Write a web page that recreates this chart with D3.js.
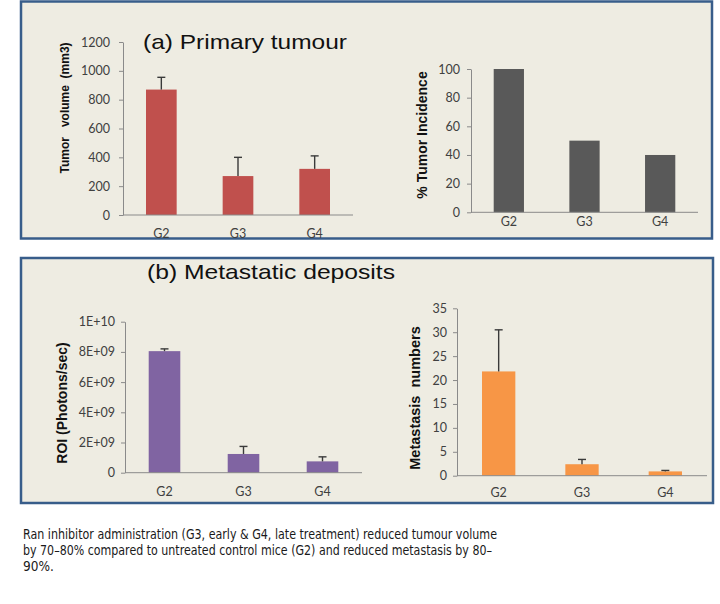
<!DOCTYPE html>
<html>
<head>
<meta charset="utf-8">
<script src="https://cdn.jsdelivr.net/npm/d3@7"></script>
<style>
  html, body { margin: 0; padding: 0; background: #fff; }
  svg { display: block; }
</style>
</head>
<body>
<div id="chart"></div>
<script>
// values
const groups = ["G2", "G3", "G4"];

const tumourVolume = [870, 270, 320];
const tumourVolumeErr = [85, 130, 90];
const volumeTicks = [0, 200, 400, 600, 800, 1000, 1200];

const tumourIncidence = [100, 50, 40];
const incidenceTicks = [0, 20, 40, 60, 80, 100];

const roiValues = [8.05e9, 1.24e9, 0.75e9];
const roiErr = [0.15e9, 0.5e9, 0.3e9];
const roiTicks = [0, 2e9, 4e9, 6e9, 8e9, 1e10];
const roiTickLabels = ["0", "2E+09", "4E+09", "6E+09", "8E+09", "1E+10"];

const metastasisCount = [21.8, 2.4, 0.9];
const metastasisErr = [8.7, 1.0, 0.2];
const metastasisTicks = [0, 5, 10, 15, 20, 25, 30, 35];

const captionLines = [
    "Ran inhibitor administration (G3, early & G4, late treatment) reduced tumour volume",
    "by 70\u201380% compared to untreated control mice (G2) and reduced metastasis by 80\u2013",
    "90%."
];

const W = 720, H = 604;
const svg = d3.select("#chart").append("svg")
    .attr("width", W)
    .attr("height", H);

// panel frames
const frames = [
    { x: 21, y: 1.5, w: 691, h: 237, title: "(a) Primary tumour", tx: 143, ty: 49, tlen: 204 },
    { x: 21, y: 258, w: 692, h: 245, title: "(b) Metastatic deposits", tx: 147, ty: 279, tlen: 248 }
];

frames.forEach(f => {
    svg.append("rect")
        .attr("x", f.x).attr("y", f.y)
        .attr("width", f.w).attr("height", f.h)
        .attr("fill", "#eeece2")
        .attr("stroke", "#385d8a")
        .attr("stroke-width", 2.5);

    svg.append("text")
        .attr("x", f.tx).attr("y", f.ty)
        .attr("font-family", "'Liberation Sans', Arial, sans-serif")
        .attr("font-size", 21)
        .attr("textLength", f.tlen)
        .attr("lengthAdjust", "spacingAndGlyphs")
        .attr("fill", "#111")
        .text(f.title);
});

function drawBars(cfg) {
    const g = svg.append("g");

    const x = d3.scaleBand()
        .domain(groups)
        .range([cfg.x0, cfg.x1])
        .paddingInner(0.6)
        .paddingOuter(0.3);

    const y = d3.scaleLinear()
        .domain([0, d3.max(cfg.ticks)])
        .range([cfg.y0, cfg.yTop]);

    // y axis
    g.append("g")
        .attr("transform", `translate(${cfg.x0},0)`)
        .call(d3.axisLeft(y)
            .tickValues(cfg.ticks)
            .tickSize(4)
            .tickSizeOuter(0)
            .tickPadding(cfg.yPad)
            .tickFormat((d, i) => cfg.labels ? cfg.labels[i] : d))
        .call(a => a.select(".domain").attr("stroke", "#8a8a8a"))
        .call(a => a.selectAll(".tick line").attr("stroke", "#8a8a8a"))
        .call(a => a.selectAll("text")
            .attr("fill", "#404040")
            .attr("font-family", "Lato, 'Open Sans', sans-serif")
            .attr("font-size", 12.5));

    // bars
    g.selectAll(".bar")
        .data(cfg.values)
        .enter()
        .append("rect")
        .attr("class", "bar")
        .attr("x", (d, i) => x(groups[i]))
        .attr("width", x.bandwidth())
        .attr("y", d => y(d))
        .attr("height", d => cfg.y0 - y(d))
        .attr("fill", cfg.color);

    // upper error bars
    if (cfg.errors) {
        const eb = g.selectAll(".err")
            .data(cfg.values.map((v, i) => ({ v, e: cfg.errors[i], k: groups[i] })))
            .enter()
            .append("g")
            .attr("class", "err")
            .attr("stroke", "#3a3a3a")
            .attr("stroke-width", 1.4);
        eb.append("line")
            .attr("x1", d => x(d.k) + x.bandwidth() / 2)
            .attr("x2", d => x(d.k) + x.bandwidth() / 2)
            .attr("y1", d => y(d.v))
            .attr("y2", d => y(d.v + d.e));
        eb.append("line")
            .attr("x1", d => x(d.k) + x.bandwidth() / 2 - 4)
            .attr("x2", d => x(d.k) + x.bandwidth() / 2 + 4)
            .attr("y1", d => y(d.v + d.e))
            .attr("y2", d => y(d.v + d.e));
    }

    // x axis
    g.append("g")
        .attr("transform", `translate(0,${cfg.y0})`)
        .call(d3.axisBottom(x).tickSize(0).tickSizeOuter(0).tickPadding(cfg.xPad))
        .call(a => a.select(".domain")
            .attr("stroke", "#8a8a8a")
            .attr("d", `M${cfg.x0},0H${cfg.x1}`))
        .call(a => a.selectAll("text")
            .attr("fill", "#404040")
            .attr("font-family", "Lato, 'Open Sans', sans-serif")
            .attr("font-size", 12.5));

    // y title
    svg.append("text")
        .attr("transform", `translate(${cfg.tX},${cfg.tY}) rotate(-90)`)
        .attr("text-anchor", "middle")
        .attr("font-family", "'Liberation Sans', Arial, sans-serif")
        .attr("font-weight", "bold")
        .attr("font-size", cfg.tSize)
        .attr("fill", "#111")
        .style("white-space", "pre")
        .text(cfg.yTitle);
}

drawBars({
    values: tumourVolume, errors: tumourVolumeErr, ticks: volumeTicks,
    color: "#c0504d",
    x0: 123, x1: 353, y0: 215, yTop: 42, yPad: 9, xPad: 14,
    yTitle: "Tumor   volume  (mm3)", tX: 69, tY: 108, tSize: 12
});

drawBars({
    values: tumourIncidence, ticks: incidenceTicks,
    color: "#595959",
    x0: 471, x1: 698, y0: 212.3, yTop: 69, yPad: 7, xPad: 5,
    yTitle: "% Tumor Incidence", tX: 427, tY: 135, tSize: 14
});

drawBars({
    values: roiValues, errors: roiErr, ticks: roiTicks, labels: roiTickLabels,
    color: "#8064a2",
    x0: 125, x1: 362, y0: 472.7, yTop: 321.7, yPad: 6, xPad: 14,
    yTitle: "ROI (Photons/sec)", tX: 67, tY: 403, tSize: 14
});

drawBars({
    values: metastasisCount, errors: metastasisErr, ticks: metastasisTicks,
    color: "#f79646",
    x0: 457, x1: 707, y0: 475.7, yTop: 308.3, yPad: 6, xPad: 12,
    yTitle: "Metastasis  numbers", tX: 420, tY: 398, tSize: 14.5
});

// caption under the panels; the source face is a narrow one, so the full lines are fitted to their width
const captionWidths = [474, 469, null];
svg.append("g")
    .selectAll("text")
    .data(captionLines)
    .enter()
    .append("text")
    .attr("x", 23)
    .attr("y", (d, i) => 539 + i * 16)
    .attr("font-family", "'DejaVu Sans Condensed', 'DejaVu Sans', sans-serif")
    .attr("font-size", 13.5)
    .attr("fill", "#1a1a1a")
    .attr("textLength", (d, i) => captionWidths[i])
    .attr("lengthAdjust", "spacingAndGlyphs")
    .text(d => d);
</script>
</body>
</html>
